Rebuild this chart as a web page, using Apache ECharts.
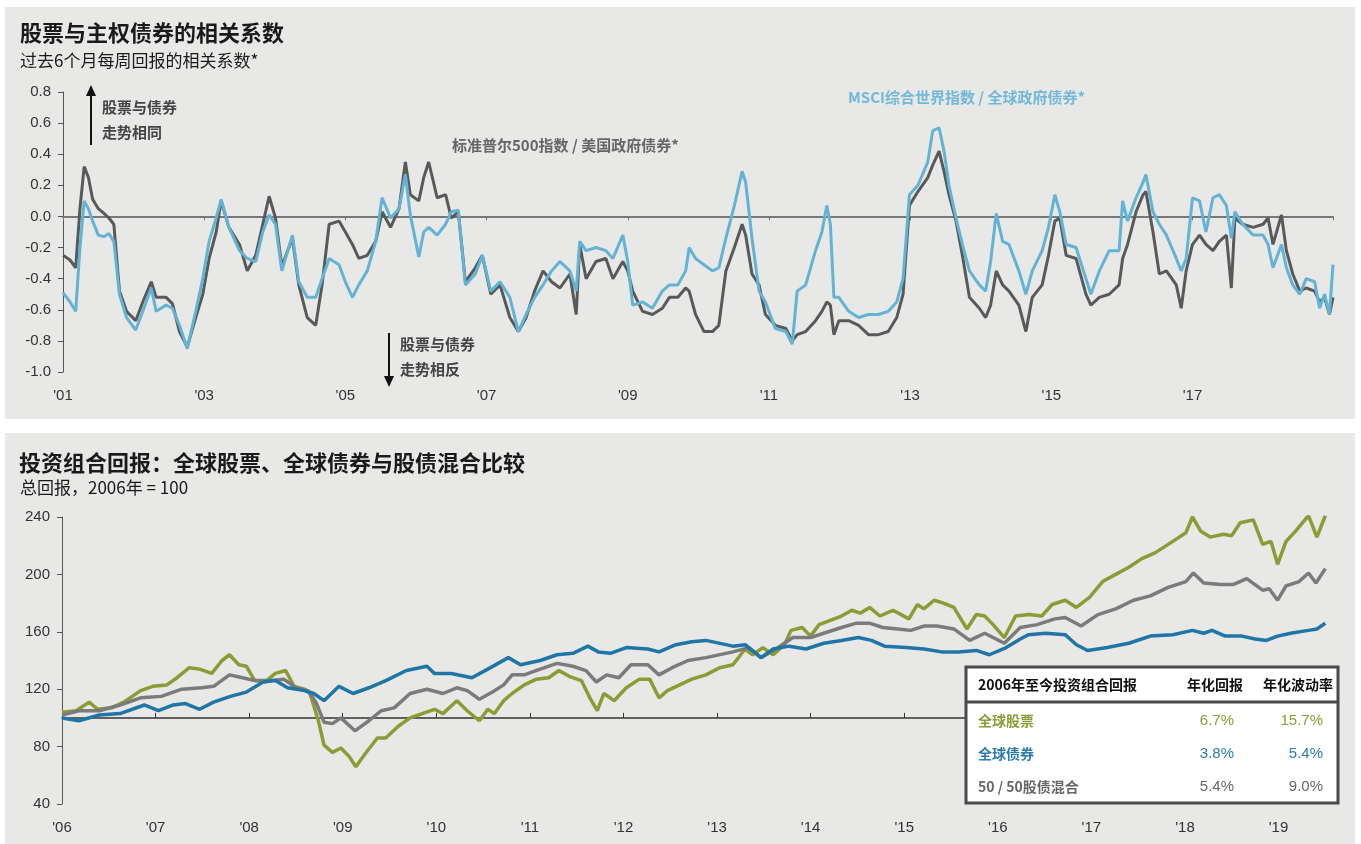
<!DOCTYPE html>
<html><head><meta charset="utf-8">
<script src="https://cdn.jsdelivr.net/npm/echarts@6/dist/echarts.min.js"></script>
<style>html,body{margin:0;padding:0;background:#fff}#c{width:1361px;height:844px}</style>
</head><body><div id="c"></div>
<script>
// ---------- Top chart: rolling 6-month correlation of weekly returns ----------
const corrYears = [2001.00,2001.10,2001.18,2001.24,2001.30,2001.36,2001.42,2001.50,2001.58,2001.65,2001.72,2001.80,2001.90,2002.03,2002.13,2002.25,2002.32,2002.46,2002.55,2002.65,2002.76,2002.88,2002.98,2003.07,2003.17,2003.24,2003.35,2003.50,2003.61,2003.73,2003.83,2003.92,2004.01,2004.10,2004.25,2004.34,2004.46,2004.58,2004.67,2004.77,2004.91,2005.00,2005.10,2005.19,2005.31,2005.43,2005.52,2005.64,2005.76,2005.85,2005.92,2006.04,2006.11,2006.18,2006.30,2006.42,2006.50,2006.60,2006.70,2006.84,2006.94,2007.06,2007.19,2007.33,2007.45,2007.56,2007.68,2007.80,2007.92,2008.04,2008.18,2008.27,2008.32,2008.41,2008.55,2008.69,2008.79,2008.93,2009.00,2009.07,2009.21,2009.35,2009.49,2009.59,2009.71,2009.82,2009.87,2009.96,2010.08,2010.20,2010.29,2010.39,2010.51,2010.62,2010.67,2010.76,2010.86,2010.95,2011.09,2011.24,2011.33,2011.40,2011.52,2011.66,2011.75,2011.82,2011.87,2011.92,2011.99,2012.13,2012.27,2012.41,2012.55,2012.69,2012.81,2012.90,2012.99,2013.11,2013.25,2013.32,2013.41,2013.48,2013.55,2013.65,2013.74,2013.84,2013.98,2014.07,2014.14,2014.22,2014.31,2014.40,2014.54,2014.64,2014.73,2014.87,2014.96,2015.05,2015.12,2015.21,2015.35,2015.49,2015.56,2015.68,2015.82,2015.96,2016.01,2016.08,2016.20,2016.30,2016.34,2016.44,2016.53,2016.63,2016.77,2016.84,2016.91,2017.00,2017.10,2017.19,2017.29,2017.38,2017.48,2017.55,2017.60,2017.71,2017.86,2018.00,2018.07,2018.14,2018.26,2018.33,2018.42,2018.52,2018.61,2018.73,2018.80,2018.87,2018.94,2018.99];
const spxUstCorr = [-0.25,-0.28,-0.33,0.05,0.32,0.25,0.11,0.05,0.02,-0.01,-0.05,-0.48,-0.61,-0.67,-0.55,-0.42,-0.52,-0.52,-0.56,-0.74,-0.84,-0.65,-0.50,-0.27,-0.10,0.10,-0.07,-0.18,-0.35,-0.25,-0.05,0.13,-0.01,-0.32,-0.14,-0.44,-0.65,-0.70,-0.44,-0.05,-0.03,-0.10,-0.18,-0.27,-0.25,-0.16,0.03,-0.07,0.05,0.35,0.14,0.10,0.25,0.35,0.12,0.14,-0.01,0.03,-0.42,-0.33,-0.25,-0.50,-0.44,-0.65,-0.74,-0.65,-0.48,-0.35,-0.42,-0.46,-0.37,-0.63,-0.18,-0.40,-0.29,-0.27,-0.40,-0.29,-0.35,-0.48,-0.61,-0.63,-0.59,-0.52,-0.52,-0.46,-0.48,-0.63,-0.74,-0.74,-0.70,-0.35,-0.20,-0.05,-0.12,-0.37,-0.44,-0.63,-0.70,-0.72,-0.80,-0.76,-0.74,-0.67,-0.61,-0.55,-0.57,-0.76,-0.67,-0.67,-0.70,-0.76,-0.76,-0.74,-0.65,-0.50,0.07,0.16,0.25,0.33,0.42,0.29,0.14,-0.03,-0.25,-0.52,-0.59,-0.65,-0.57,-0.35,-0.44,-0.48,-0.57,-0.74,-0.52,-0.44,-0.25,-0.03,-0.01,-0.25,-0.27,-0.50,-0.57,-0.52,-0.50,-0.44,-0.27,-0.18,0.03,0.14,0.16,-0.10,-0.37,-0.35,-0.44,-0.59,-0.35,-0.18,-0.12,-0.18,-0.22,-0.16,-0.12,-0.46,-0.01,-0.05,-0.07,-0.05,-0.01,-0.18,0.01,-0.22,-0.37,-0.48,-0.46,-0.48,-0.55,-0.52,-0.63,-0.52];
const msciGovCorr = [-0.49,-0.55,-0.61,-0.20,0.10,0.05,-0.03,-0.12,-0.13,-0.11,-0.16,-0.50,-0.65,-0.73,-0.61,-0.46,-0.61,-0.57,-0.59,-0.70,-0.85,-0.61,-0.40,-0.16,-0.01,0.11,-0.07,-0.22,-0.27,-0.29,-0.10,0.01,-0.05,-0.35,-0.12,-0.42,-0.52,-0.52,-0.40,-0.27,-0.31,-0.42,-0.52,-0.44,-0.35,-0.16,0.12,-0.01,0.05,0.27,0.01,-0.26,-0.10,-0.07,-0.12,-0.05,0.03,0.04,-0.44,-0.37,-0.25,-0.48,-0.42,-0.52,-0.74,-0.63,-0.52,-0.44,-0.35,-0.29,-0.35,-0.48,-0.16,-0.22,-0.20,-0.22,-0.27,-0.12,-0.29,-0.57,-0.55,-0.59,-0.48,-0.44,-0.44,-0.35,-0.20,-0.27,-0.31,-0.35,-0.33,-0.14,0.07,0.29,0.22,-0.14,-0.48,-0.55,-0.72,-0.74,-0.82,-0.48,-0.44,-0.22,-0.10,0.07,-0.05,-0.52,-0.52,-0.61,-0.65,-0.63,-0.63,-0.61,-0.55,-0.40,0.14,0.20,0.35,0.55,0.57,0.42,0.20,-0.01,-0.18,-0.35,-0.44,-0.48,-0.29,0.02,-0.16,-0.18,-0.35,-0.50,-0.35,-0.22,-0.07,0.14,0.03,-0.18,-0.20,-0.40,-0.50,-0.35,-0.22,-0.22,0.10,-0.03,0.12,0.22,0.27,0.03,-0.05,-0.12,-0.27,-0.35,-0.27,0.12,0.10,-0.10,0.12,0.14,0.07,-0.14,0.03,-0.05,-0.12,-0.12,-0.18,-0.33,-0.18,-0.33,-0.44,-0.50,-0.40,-0.42,-0.59,-0.50,-0.63,-0.31];
const corrTicks = [-1.0,-0.8,-0.6,-0.4,-0.2,0.0,0.2,0.4,0.6,0.8];

// ---------- Bottom chart: total return, 2006 = 100 ----------
const equityYears = [2006.00,2006.15,2006.29,2006.38,2006.53,2006.66,2006.84,2006.97,2007.12,2007.23,2007.36,2007.47,2007.60,2007.71,2007.79,2007.89,2007.97,2008.06,2008.17,2008.28,2008.39,2008.48,2008.59,2008.65,2008.74,2008.80,2008.89,2008.98,2009.07,2009.14,2009.24,2009.37,2009.46,2009.59,2009.72,2009.85,2009.98,2010.07,2010.22,2010.33,2010.46,2010.55,2010.62,2010.72,2010.81,2010.94,2011.07,2011.20,2011.31,2011.42,2011.55,2011.64,2011.72,2011.79,2011.90,2012.03,2012.17,2012.28,2012.38,2012.47,2012.60,2012.73,2012.88,2013.03,2013.17,2013.30,2013.38,2013.49,2013.60,2013.72,2013.79,2013.91,2014.00,2014.09,2014.21,2014.33,2014.44,2014.53,2014.63,2014.74,2014.88,2015.05,2015.14,2015.21,2015.32,2015.42,2015.53,2015.67,2015.77,2015.86,2015.95,2016.07,2016.19,2016.33,2016.47,2016.58,2016.72,2016.84,2016.98,2017.12,2017.26,2017.40,2017.54,2017.68,2017.87,2018.01,2018.08,2018.17,2018.27,2018.41,2018.50,2018.59,2018.73,2018.83,2018.92,2018.99,2019.08,2019.18,2019.32,2019.41,2019.50];
const globalEquity = [104,105,111,106,107,111,119,122,123,128,135,134,131,140,144,137,136,126,125,131,133,122,120,117,98,81,76,79,73,66,75,86,86,94,100,103,106,103,112,105,98,106,103,112,117,123,127,128,133,129,126,114,105,117,112,121,127,127,114,119,123,127,130,135,137,148,144,149,144,151,161,163,157,165,168,171,175,173,177,171,175,169,179,176,182,180,177,162,172,171,165,156,171,172,171,179,182,177,184,195,200,205,211,215,223,229,240,230,226,228,227,236,238,221,223,207,223,230,241,226,241];
const mixYears = [2006.00,2006.18,2006.40,2006.62,2006.84,2007.06,2007.28,2007.49,2007.62,2007.79,2007.93,2008.06,2008.24,2008.37,2008.50,2008.63,2008.72,2008.80,2008.89,2008.98,2009.13,2009.28,2009.41,2009.55,2009.72,2009.90,2010.07,2010.22,2010.33,2010.46,2010.60,2010.72,2010.81,2010.94,2011.11,2011.29,2011.46,2011.60,2011.71,2011.82,2011.95,2012.08,2012.26,2012.38,2012.52,2012.69,2012.88,2013.17,2013.34,2013.47,2013.63,2013.81,2014.00,2014.14,2014.33,2014.49,2014.63,2014.77,2014.93,2015.07,2015.21,2015.35,2015.53,2015.70,2015.86,2016.07,2016.24,2016.42,2016.61,2016.72,2016.89,2017.07,2017.26,2017.45,2017.63,2017.82,2018.01,2018.09,2018.20,2018.38,2018.52,2018.66,2018.83,2018.90,2018.99,2019.08,2019.22,2019.32,2019.40,2019.50];
const mix5050 = [102,105,105,109,114,115,120,121,122,130,128,126,126,127,121,119,110,97,96,100,91,98,105,107,117,120,117,121,119,113,118,123,130,130,134,138,136,133,125,130,128,137,137,130,135,140,142,146,149,142,148,156,156,159,163,166,166,163,162,161,164,164,162,154,159,152,163,165,169,170,164,172,176,182,185,191,195,201,194,193,193,197,189,190,182,192,195,201,194,204];
const bondYears = [2006.00,2006.18,2006.40,2006.62,2006.88,2007.03,2007.19,2007.32,2007.47,2007.62,2007.80,2007.97,2008.15,2008.28,2008.41,2008.59,2008.69,2008.80,2008.96,2009.11,2009.28,2009.46,2009.68,2009.90,2009.98,2010.16,2010.38,2010.55,2010.77,2010.90,2011.11,2011.29,2011.46,2011.62,2011.73,2011.86,2012.03,2012.26,2012.38,2012.56,2012.73,2012.88,2013.17,2013.30,2013.47,2013.60,2013.77,2013.95,2014.14,2014.33,2014.51,2014.65,2014.79,2015.02,2015.21,2015.40,2015.58,2015.77,2015.91,2016.09,2016.24,2016.33,2016.51,2016.72,2016.84,2016.96,2017.17,2017.40,2017.63,2017.87,2018.08,2018.20,2018.29,2018.43,2018.61,2018.75,2018.87,2018.99,2019.13,2019.32,2019.41,2019.50];
const globalBonds = [100,98,102,103,109,105,109,110,106,111,115,118,125,126,121,119,117,112,122,117,121,126,133,136,131,131,128,134,142,137,140,144,145,150,146,145,149,148,146,151,153,154,150,151,142,148,150,148,152,154,156,154,150,149,148,146,146,147,144,149,155,158,159,158,151,147,149,152,157,158,161,159,161,157,157,155,154,157,159,161,162,166];
const returnTicks = [40,80,120,160,200,240];

// ---------- Table ----------
const tableHeader = ['2006年至今投资组合回报','年化回报','年化波动率'];
const portfolioNames = ['全球股票','全球债券','50 / 50股债混合'];
const annReturn = ['6.7%','3.8%','5.4%'];
const annVol = ['15.7%','5.4%','9.0%'];

// ---------- styling ----------
const C_GREY_TOP = '#595959', C_BLUE_TOP = '#62b3d5';
const C_EQ = '#8c9b34', C_MIX = '#7b7b7b', C_BOND = '#1f76a6';
const CJK = "'Noto Sans CJK SC', sans-serif";
const NUM = "'Liberation Sans Narrow', 'Liberation Sans', Arial, sans-serif";
const zip = (xs, ys) => xs.map((x, i) => [x, ys[i]]);

const G1 = {left: 63, top: 92, width: 1270, height: 280};
const G2 = {left: 62, top: 517, width: 1268, height: 287};
const yMin2 = returnTicks[0], yMax2 = returnTicks[returnTicks.length - 1];
const baseOffset = -(100 - yMin2) / (yMax2 - yMin2) * G2.height;

const axisLbl = {color: '#333', fontSize: 15, fontFamily: NUM};
const yrFmt = v => "'" + String(Math.round(v)).slice(2);

const chart = echarts.init(document.getElementById('c'), null, {renderer: 'canvas'});

const g = [];
g.push({type: 'rect', shape: {x: 5, y: 7, width: 1350, height: 412}, style: {fill: '#e8e8e7'}, z: -10});
g.push({type: 'rect', shape: {x: 5, y: 433, width: 1350, height: 411}, style: {fill: '#e8e8e7'}, z: -10});
function txt(t, x, y, font, fill, align, z) {
  g.push({type: 'text', x: x, y: y, z: z || 10, style: {text: t, font: font, fill: fill, textAlign: align || 'left', textVerticalAlign: 'middle'}});
}
txt('股票与主权债券的相关系数', 20, 33, "bold 22px " + CJK, '#1a1a1a');
txt('过去6个月每周回报的相关系数*', 20, 61, "17px " + CJK, '#1a1a1a');
txt('投资组合回报：全球股票、全球债券与股债混合比较', 19, 463, "bold 22px " + CJK, '#1a1a1a');
txt('总回报，2006年 = 100', 20, 488, "17px " + CJK, '#1a1a1a');
txt('标准普尔500指数 / 美国政府债券*', 452, 145, "bold 15px " + CJK, '#666');
txt('MSCI综合世界指数 / 全球政府债券*', 848, 97, "bold 15px " + CJK, '#72b8d8');
txt('股票与债券', 102, 107, "bold 15px " + CJK, '#444');
txt('走势相同', 102, 132, "bold 15px " + CJK, '#444');
txt('股票与债券', 400, 344, "bold 15px " + CJK, '#444');
txt('走势相反', 400, 369, "bold 15px " + CJK, '#444');
g.push({type: 'line', shape: {x1: 91, y1: 145, x2: 91, y2: 94}, style: {stroke: '#111', lineWidth: 2}, z: 10});
g.push({type: 'polygon', shape: {points: [[86, 96], [96, 96], [91, 85]]}, style: {fill: '#111'}, z: 10});
g.push({type: 'line', shape: {x1: 389, y1: 333, x2: 389, y2: 378}, style: {stroke: '#111', lineWidth: 2}, z: 10});
g.push({type: 'polygon', shape: {points: [[384, 376], [394, 376], [389, 387]]}, style: {fill: '#111'}, z: 10});
const TX = 966, TY = 667, TW = 372, TH = 136;
g.push({type: 'rect', shape: {x: TX, y: TY, width: TW, height: TH}, style: {fill: '#fff', stroke: '#4a4a4a', lineWidth: 3}, z: 50});
g.push({type: 'line', shape: {x1: TX, y1: 702, x2: TX + TW, y2: 702}, style: {stroke: '#4a4a4a', lineWidth: 3}, z: 51});
txt(tableHeader[0], 978, 685, "bold 14px " + CJK, '#111', 'left', 52);
txt(tableHeader[1], 1243, 685, "bold 14px " + CJK, '#111', 'right', 52);
txt(tableHeader[2], 1333, 685, "bold 14px " + CJK, '#111', 'right', 52);
const rowColors = [C_EQ, '#2a7cae', '#666'];
portfolioNames.forEach((n, i) => {
  const y = 721 + i * 33;
  txt(n, 978, y, "bold 14px " + CJK, rowColors[i], 'left', 52);
  txt(annReturn[i], 1234, y, "15px " + NUM, rowColors[i], 'right', 52);
  txt(annVol[i], 1323, y, "15px " + NUM, rowColors[i], 'right', 52);
});

const option = {
  backgroundColor: '#ffffff',
  animation: false,
  graphic: g,
  grid: [
    Object.assign({containLabel: false}, G1),
    Object.assign({containLabel: false}, G2)
  ],
  xAxis: [
    {gridIndex: 0, type: 'value', min: 2001, max: 2018.99, interval: 2,
     axisLine: {show: false, onZero: false}, axisTick: {show: false}, splitLine: {show: false},
     axisLabel: Object.assign({formatter: yrFmt, margin: 16, showMaxLabel: false}, axisLbl)},
    {gridIndex: 0, type: 'value', min: 2001, max: 2018.99, interval: 2, position: 'bottom',
     axisLine: {show: true, onZero: true, lineStyle: {color: '#777', width: 2}},
     axisTick: {show: true, length: 4, lineStyle: {color: '#777'}}, axisLabel: {show: false}, splitLine: {show: false}},
    {gridIndex: 1, type: 'value', min: 2006, max: 2019.55, interval: 1,
     axisLine: {show: false}, axisTick: {show: false}, splitLine: {show: false},
     axisLabel: Object.assign({formatter: yrFmt, margin: 16, showMaxLabel: false}, axisLbl)},
    {gridIndex: 1, type: 'value', min: 2006, max: 2019.55, interval: 1, position: 'bottom', offset: baseOffset,
     axisLine: {show: true, onZero: false, lineStyle: {color: '#333', width: 1.5}},
     axisTick: {show: true, inside: true, length: 5, lineStyle: {color: '#333'}}, axisLabel: {show: false}, splitLine: {show: false}}
  ],
  yAxis: [
    {gridIndex: 0, type: 'value', min: corrTicks[0], max: corrTicks[corrTicks.length - 1], interval: 0.2,
     axisLine: {show: true, lineStyle: {color: '#555'}}, axisTick: {show: true, length: 5, lineStyle: {color: '#555'}},
     splitLine: {show: false}, axisLabel: Object.assign({formatter: v => v.toFixed(1), margin: 12}, axisLbl)},
    {gridIndex: 1, type: 'value', min: yMin2, max: yMax2, interval: 40,
     axisLine: {show: true, lineStyle: {color: '#555'}}, axisTick: {show: true, length: 5, lineStyle: {color: '#555'}},
     splitLine: {show: false}, axisLabel: Object.assign({margin: 12}, axisLbl)}
  ],
  series: [
    {name: '标准普尔500指数 / 美国政府债券', type: 'line', xAxisIndex: 0, yAxisIndex: 0, data: zip(corrYears, spxUstCorr),
     showSymbol: false, lineStyle: {color: C_GREY_TOP, width: 3}, itemStyle: {color: C_GREY_TOP}, z: 3},
    {name: 'MSCI综合世界指数 / 全球政府债券', type: 'line', xAxisIndex: 0, yAxisIndex: 0, data: zip(corrYears, msciGovCorr),
     showSymbol: false, lineStyle: {color: C_BLUE_TOP, width: 3}, itemStyle: {color: C_BLUE_TOP}, z: 4},
    {name: '全球股票', type: 'line', xAxisIndex: 2, yAxisIndex: 1, data: zip(equityYears, globalEquity),
     showSymbol: false, lineStyle: {color: C_EQ, width: 3.5}, itemStyle: {color: C_EQ}, z: 3},
    {name: '50 / 50股债混合', type: 'line', xAxisIndex: 2, yAxisIndex: 1, data: zip(mixYears, mix5050),
     showSymbol: false, lineStyle: {color: C_MIX, width: 3.5}, itemStyle: {color: C_MIX}, z: 4},
    {name: '全球债券', type: 'line', xAxisIndex: 2, yAxisIndex: 1, data: zip(bondYears, globalBonds),
     showSymbol: false, lineStyle: {color: C_BOND, width: 3.5}, itemStyle: {color: C_BOND}, z: 5}
  ]
};
chart.setOption(option);
</script>
</body></html>
